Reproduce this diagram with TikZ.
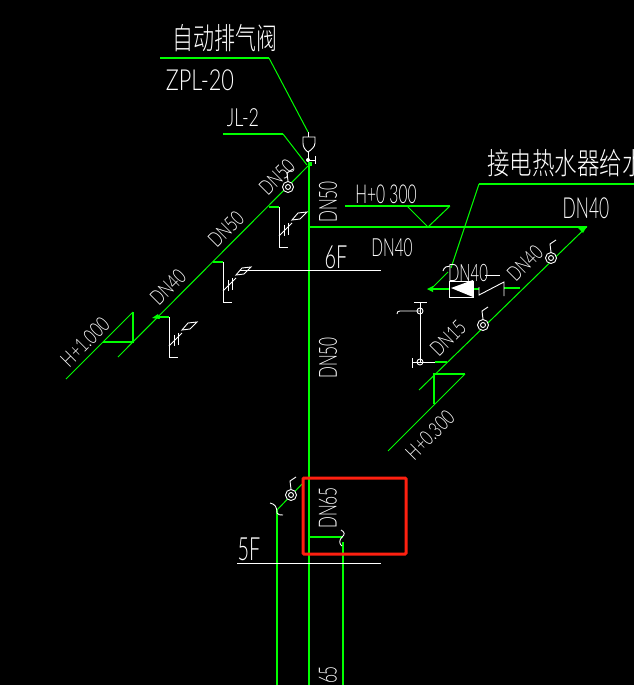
\documentclass[tikz,border=0pt]{standalone}
\usepackage{fontspec}
\setmainfont{Lato Light}
\newfontfamily\cjkfont{Noto Sans CJK SC Light}
\definecolor{pipegreen}{RGB}{0,255,0}
\definecolor{boxred}{RGB}{255,32,16}
\tikzset{
    pipe/.style={draw=pipegreen, line width=1pt},
    riser/.style={draw=pipegreen, line width=1.3pt},
    wire/.style={draw=white, line width=.9pt},
    cadtext/.style args={#1/#2}{text=white, inner sep=0pt, xscale=#2, font=\fontsize{#1}{#1}\selectfont},
    cjktext/.style args={#1/#2}{text=white, inner sep=0pt, xscale=#2, font=\fontsize{#1}{#1}\cjkfont}
}
\begin{document}
\begin{tikzpicture}[x=1pt, y=-1pt]
    \clip (0,0) rectangle (634,685);
    \fill[black] (0,0) rectangle (634,685);

    % risers
    \foreach \x/\y in {309/163, 277/510, 343/542} \draw[riser] (\x,\y) -- (\x,685);
    \draw[pipe] (308,166) -- (118,357);
    \draw[riser] (309,537) -- (343,537);
    \draw[pipe] (277,510) -- (302,484);
    \fill[pipegreen] (308,162) rectangle (312,166);

    % leaders
    \draw[riser] (160,58) -- (269,58);
    \draw[pipe] (269,58) -- (308,132);
    \draw[riser] (223,134) -- (283,134);
    \draw[pipe] (283,134) -- (307,165);
    \draw[riser] (634,184) -- (479,184);
    \draw[pipe] (479,184) -- (451,268);
    \draw[pipe] (448,272) -- (432,288);

    % air valve
    \draw[wire] (308,132) -- (308,137);
    \draw[wire] (303,137) -- (315,137) -- (315,143) .. controls (315,147) and (311,150) .. (308,152) .. controls (305,150) and (303,147) .. (303,143) -- cycle;
    \draw[wire] (308,152) -- (308,160) -- (315,160);
    \draw[wire] (315,156) -- (315,164);
    \fill[white] (308,160) circle (2);

    % left branches
    \foreach \x/\y in {269/207, 213/262, 159/317} {
        \draw[riser] (\x,\y) -- (\x+10,\y);
        \draw[wire] (\x+10,\y) -- (\x+10,\y+40) -- (\x+19,\y+40);
        \draw[wire] (\x+10,\y+29) -- (\x+23,\y+16);
        \draw[wire] (\x+15,\y+18) -- (\x+15,\y+29);
        \draw[wire] (\x+19,\y+16) -- (\x+19,\y+28);
        \draw[wire] (\x+23,\y+13) -- (\x+29,\y+6) -- (\x+38,\y+5) -- (\x+31,\y+12) -- cycle;
    }
    \fill[pipegreen] (152,318) -- (158,314) -- (160,319) -- cycle;

    % H+1.000 mark
    \draw[pipe] (66,379) -- (133,312);
    \draw[riser] (133,312) -- (133,342) -- (103,342);

    % floor lines
    \draw[wire] (240,270) -- (381,270);
    \draw[wire] (237,563) -- (381,563);

    % right side
    \draw[riser] (309,227) -- (587,227);
    \draw[pipe] (587,226.5) -- (419,390);
    \fill[pipegreen] (587,226) -- (578,228) -- (583,233) -- cycle;
    \draw[riser] (345,206) -- (450,206);
    \draw[pipe] (450,206) -- (428,227) -- (407,206);
    \draw[pipe] (465,374) -- (388,451);
    \draw[riser] (465,374) -- (434,374) -- (434,404);

    % water heater branch
    \draw[riser] (430,289) -- (449,289);
    \draw[riser] (473,289) -- (479,289);
    \draw[riser] (504,288) -- (520,288);
    \fill[pipegreen] (427,289) -- (433,286) -- (433,292) -- cycle;
    \draw[wire] (449,281) rectangle (473,297);
    \fill[white] (451,288) -- (473,280) -- (473,297) -- cycle;
    \draw[wire] (479,287) -- (479,295) -- (504,282) -- (504,296);
    \draw[wire] (485,275) -- (500,275);
    \draw[wire] (443,271) .. controls (444,267) and (447,266) .. (450,266);

    % right fixture
    \draw[wire] (420,302) -- (420,362);
    \draw[wire] (414,302) -- (427,302);
    \draw[wire] (397,314) .. controls (397,312) and (398,311) .. (400,311) -- (420,311);
    \draw[wire] (420,311) circle (3);
    \draw[wire] (412,358) -- (412,368);
    \draw[wire] (412,362) -- (435,362);
    \draw[wire] (420,362) circle (3);
    \draw[riser] (435,362) -- (447,362);

    % valves
    \foreach \x/\y in {288/187, 551/258, 483/325, 291/495} {
        \fill[black] (\x,\y) circle (5.5);
        \draw[wire] (\x,\y) circle (5.5);
        \draw[wire] (\x,\y) circle (2.5);
        \draw[wire] (\x,\y-6) -- (\x-1,\y-14) -- (\x+5,\y-18);
    }

    % hooks
    \draw[wire] (270,503) .. controls (275,504) and (277,507) .. (277,513) .. controls (278,515) and (280,515) .. (283,515);
    \draw[wire] (341,530) .. controls (345,532) and (345,535) .. (342,537) .. controls (339,540) and (339,544) .. (342,546);

    % red box
    \draw[draw=boxred, line width=3pt, rounded corners=1pt] (303,478) rectangle (406,554);

    % labels
    \node[cjktext=30/.7] (valvename) at (224.5,38) {自动排气阀};
    \node[cjktext=30/.75] (heatername) at (566,163) {接电热水器给水};
    \node[cadtext=29/.75] (valvetype) at (200,80) {ZPL-20};
    \node[cadtext=25/.72] (risername) at (243,118) {JL-2};
    \node[rotate=45, cadtext=21/.72] (dnA) at (277,177) {DN50};
    \node[rotate=45, cadtext=21/.72] (dnB) at (226,229) {DN50};
    \node[rotate=45, cadtext=21/.72] (dnC) at (168,287) {DN40};
    \node[rotate=45, cadtext=21/.72] (levelA) at (85,342) {H+1.000};
    \node[rotate=90, cadtext=25/.62] (dnD) at (328,202) {DN50};
    \node[rotate=90, cadtext=25/.62] (dnE) at (328,358) {DN50};
    \node[rotate=90, cadtext=25/.62] (dnF) at (328,508) {DN65};
    \node[rotate=90, cadtext=25/.62] (dnG) at (328,675) {65};
    \node[cadtext=26/.6] (levelB) at (386,194) {H+0 300};
    \node[cadtext=25/.62] (dnH) at (392,248) {DN40};
    \node[cadtext=29/.6] (dnI) at (586,208) {DN40};
    \node[cadtext=24/.62] (dnJ) at (468,273) {DN40};
    \node[rotate=45, cadtext=21/.72] (dnK) at (525,263) {DN40};
    \node[rotate=45, cadtext=21/.72] (dnL) at (448,338) {DN15};
    \node[rotate=45, cadtext=21/.72] (levelC) at (430,435) {H+0.300};
    \node[cadtext=32/.62] (floorA) at (336,257) {6F};
    \node[cadtext=32/.62] (floorB) at (249,549) {5F};
\end{tikzpicture}
\end{document}
